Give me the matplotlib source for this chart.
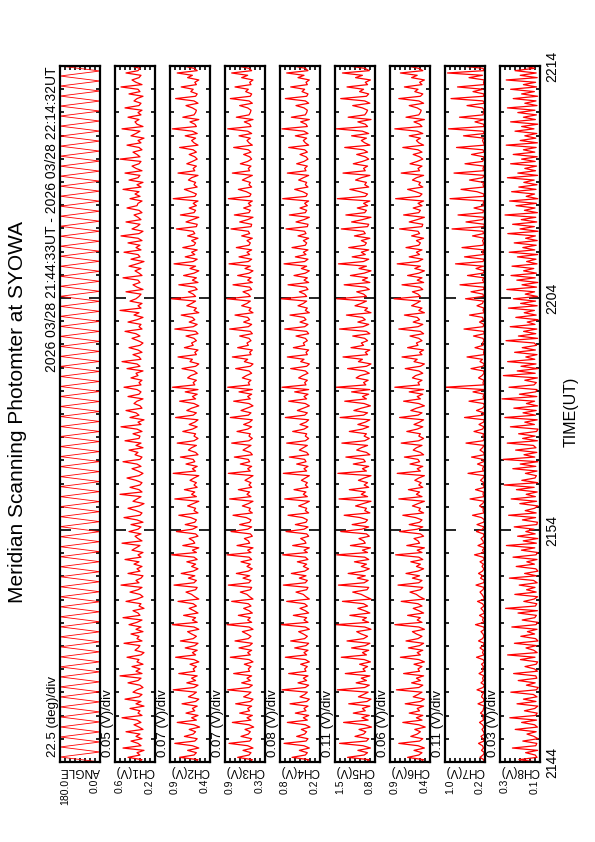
import numpy as np
import matplotlib
matplotlib.use("Agg")
from matplotlib import pyplot as plt

plt.rcParams["font.family"] = ["Liberation Sans", "DejaVu Sans"]

# time axis: minutes after 21:44 UT
t_start, t_end = 0.0, 30.0
time_ticks = [0, 10, 20, 30]
time_labels = ["2144", "2154", "2204", "2214"]

# scan angle (deg) at the turning points of each scan
angle = [
    0, 180, 0, 180, 0, 180, 0, 180, 0, 180, 0, 180, 0, 180, 0, 180, 0, 180, 0, 180,
    0, 180, 0, 180, 0, 180, 0, 180, 0, 180, 0, 180, 0, 180, 0, 180, 0, 180, 0, 180,
    0, 180, 0, 180, 0, 180, 0, 180, 0, 180, 0, 180, 0, 180, 0, 180, 0, 180, 0, 180,
    0, 180, 0, 180, 0, 180, 0, 180, 0, 180, 0, 180, 0, 180, 0, 180, 0, 180, 0, 180,
    0, 180, 0, 180, 0, 180, 0, 180, 0, 180, 0, 180, 0, 180, 0, 180, 0, 180, 0, 180,
    0, 180, 0, 180, 0, 180, 0, 180, 0, 180, 0, 180, 0, 180, 0, 180, 0, 180, 0, 180,
    0, 180, 0, 180, 0, 180, 0, 180, 0, 180, 0, 180, 0, 180, 0, 180, 0, 180, 0, 180,
]

# channel outputs, in 0.01 V (CH8 in 0.001 V)
ch1 = [
    36, 33, 47, 35, 38, 31, 52, 34, 37, 44, 33, 39, 35, 49, 32, 36, 41, 34, 38, 53,
    33, 37, 35, 45, 31, 39, 34, 50, 36, 33, 42, 38, 32, 35, 47, 37, 34, 55, 33, 39,
    35, 43, 32, 38, 36, 48, 34, 31, 40, 37, 35, 51, 33, 38, 36, 44, 32, 39, 34, 46,
    38, 33, 52, 35, 37, 42, 31, 36, 34, 49, 38, 32, 35, 45, 37, 33, 54, 36, 39, 34,
    32, 47, 35, 38, 33, 41, 36, 50, 34, 37, 32, 43, 39, 35, 53, 33, 37, 40, 34, 46,
    37, 34, 44, 32, 38, 51, 35, 33, 39, 47, 36, 31, 42, 38, 34, 55, 33, 36, 45, 35,
    33, 39, 48, 36, 32, 37, 43, 34, 38, 52, 35, 33, 40, 37, 46, 32, 39, 34, 50, 36,
    35, 42, 33, 38, 54, 34, 37, 31, 45, 36, 39, 49, 33, 35, 41, 38, 32, 47, 36, 34,
    38, 51, 34, 36, 33, 44, 37, 39, 32, 48, 35, 38, 53, 34, 36, 42, 33, 37, 46, 35,
    32, 37, 43, 35, 39, 50, 33, 36, 34, 47, 38, 32, 41, 36, 55, 34, 37, 33, 45, 39,
    36, 34, 49, 32, 38, 42, 35, 37, 52, 33, 36, 40, 34, 46, 38, 31, 44, 35, 37, 51,
    34, 39, 35, 47, 33, 37, 54, 36, 32, 43, 38, 35, 49, 34, 37, 41, 33, 36, 48, 38,
    37, 33, 45, 35, 40, 36, 52, 34, 38, 32, 46, 37, 35, 50, 33, 39, 43, 36, 34, 55,
    35, 38, 42, 33, 36, 48, 34, 37, 31, 44, 39, 35, 53, 32, 38, 40, 36, 47, 34, 37,
    33, 50, 36, 34, 41, 38, 32, 46, 35, 37, 54, 33, 39, 43, 36, 34, 49, 37, 35, 44,
]
ch2 = [
    58, 55, 78, 60, 57, 68, 54, 62, 84, 59, 56, 72, 61, 58, 66, 53, 60, 81, 57, 63,
    55, 70, 59, 62, 56, 75, 58, 54, 67, 61, 57, 86, 60, 55, 69, 58, 63, 56, 79, 59,
    61, 57, 65, 54, 60, 83, 58, 62, 56, 71, 59, 55, 77, 61, 57, 63, 68, 54, 60, 87,
    56, 62, 58, 73, 55, 60, 66, 57, 61, 80, 54, 59, 63, 70, 58, 56, 85, 60, 57, 67,
    59, 76, 61, 55, 63, 58, 69, 56, 60, 88, 57, 62, 54, 74, 59, 61, 66, 55, 58, 82,
    62, 56, 71, 59, 57, 64, 79, 55, 60, 58, 68, 61, 54, 84, 57, 63, 59, 72, 56, 60,
    57, 65, 60, 54, 86, 58, 62, 56, 70, 59, 61, 77, 55, 58, 67, 63, 57, 81, 60, 55,
    60, 58, 74, 62, 56, 66, 59, 55, 83, 61, 57, 69, 63, 54, 60, 78, 58, 62, 56, 71,
    55, 87, 59, 61, 57, 68, 64, 56, 60, 75, 58, 54, 65, 62, 80, 57, 59, 55, 72, 61,
    63, 57, 60, 70, 55, 58, 84, 61, 56, 66, 59, 62, 76, 54, 60, 57, 69, 63, 58, 88,
    58, 61, 67, 56, 59, 79, 55, 62, 57, 73, 60, 54, 65, 58, 85, 61, 56, 71, 59, 63,
    56, 74, 60, 58, 63, 55, 68, 59, 61, 82, 57, 56, 70, 62, 54, 77, 60, 58, 66, 57,
    61, 55, 86, 59, 57, 64, 72, 56, 60, 58, 67, 63, 55, 80, 59, 61, 57, 69, 62, 56,
    59, 66, 57, 61, 78, 55, 60, 63, 58, 71, 56, 62, 87, 57, 59, 65, 54, 74, 60, 58,
    57, 62, 70, 55, 60, 83, 58, 56, 64, 61, 76, 57, 59, 54, 68, 62, 81, 56, 60, 73,
]
ch3 = [
    52, 49, 71, 54, 51, 63, 48, 56, 84, 53, 50, 66, 55, 52, 60, 47, 54, 79, 51, 57,
    49, 68, 53, 56, 50, 74, 52, 48, 62, 55, 51, 86, 54, 49, 65, 52, 57, 50, 77, 53,
    55, 51, 61, 48, 54, 82, 52, 56, 50, 69, 53, 49, 75, 55, 51, 57, 64, 48, 54, 87,
    50, 56, 52, 70, 49, 54, 62, 51, 55, 80, 48, 53, 57, 67, 52, 50, 85, 54, 51, 63,
    53, 73, 55, 49, 57, 52, 66, 50, 54, 87, 51, 56, 48, 72, 53, 55, 61, 49, 52, 81,
    56, 50, 68, 53, 51, 58, 78, 49, 54, 52, 64, 55, 48, 83, 51, 57, 53, 70, 50, 54,
    51, 60, 54, 48, 85, 52, 56, 50, 67, 53, 55, 76, 49, 52, 63, 57, 51, 80, 54, 49,
    54, 52, 72, 56, 50, 62, 53, 49, 82, 55, 51, 66, 57, 48, 54, 77, 52, 56, 50, 69,
    49, 86, 53, 55, 51, 64, 58, 50, 54, 74, 52, 48, 61, 56, 79, 51, 53, 49, 71, 55,
    57, 51, 54, 68, 49, 52, 83, 55, 50, 62, 53, 56, 75, 48, 54, 51, 65, 57, 52, 87,
    52, 55, 63, 50, 53, 78, 49, 56, 51, 71, 54, 48, 60, 52, 84, 55, 50, 69, 53, 57,
    50, 73, 54, 52, 57, 49, 65, 53, 55, 81, 51, 50, 68, 56, 48, 76, 54, 52, 62, 51,
    55, 49, 85, 53, 51, 58, 70, 50, 54, 52, 64, 57, 49, 79, 53, 55, 51, 67, 56, 50,
    53, 62, 51, 55, 77, 49, 54, 57, 52, 69, 50, 56, 86, 51, 53, 61, 48, 73, 54, 52,
    51, 56, 68, 49, 54, 82, 52, 50, 59, 55, 75, 51, 53, 48, 65, 56, 80, 50, 54, 71,
]
ch4 = [
    40, 37, 62, 42, 39, 51, 36, 44, 74, 41, 38, 55, 43, 40, 48, 35, 42, 69, 39, 45,
    37, 57, 41, 44, 38, 65, 40, 36, 50, 43, 39, 77, 42, 37, 53, 40, 45, 38, 67, 41,
    43, 39, 49, 36, 42, 72, 40, 44, 38, 58, 41, 37, 64, 43, 39, 45, 52, 36, 42, 78,
    38, 44, 40, 60, 37, 42, 50, 39, 43, 70, 36, 41, 45, 56, 40, 38, 75, 42, 39, 51,
    41, 63, 43, 37, 45, 40, 54, 38, 42, 76, 39, 44, 36, 61, 41, 43, 49, 37, 40, 71,
    44, 38, 57, 41, 39, 46, 68, 37, 42, 40, 52, 43, 36, 73, 39, 45, 41, 59, 38, 42,
    39, 48, 42, 36, 75, 40, 44, 38, 55, 41, 43, 66, 37, 40, 51, 45, 39, 70, 42, 37,
    42, 40, 61, 44, 38, 50, 41, 37, 72, 43, 39, 54, 45, 36, 42, 67, 40, 44, 38, 58,
    37, 77, 41, 43, 39, 52, 46, 38, 42, 64, 40, 36, 49, 44, 69, 39, 41, 37, 60, 43,
    45, 39, 42, 56, 37, 40, 73, 43, 38, 50, 41, 44, 65, 36, 42, 39, 53, 45, 40, 78,
    40, 43, 51, 38, 41, 68, 37, 44, 39, 59, 42, 36, 48, 40, 74, 43, 38, 57, 41, 45,
    38, 62, 42, 40, 45, 37, 53, 41, 43, 71, 39, 38, 56, 44, 36, 66, 42, 40, 50, 39,
    43, 37, 76, 41, 39, 46, 58, 38, 42, 40, 52, 45, 37, 69, 41, 43, 39, 55, 44, 38,
    41, 50, 39, 43, 67, 37, 42, 45, 40, 57, 38, 44, 77, 39, 41, 49, 36, 63, 42, 40,
    39, 44, 56, 37, 42, 72, 40, 38, 47, 43, 64, 39, 41, 36, 53, 44, 70, 38, 42, 60,
]
ch5 = [
    96, 90, 128, 99, 93, 110, 88, 101, 142, 95, 91, 115, 100, 96, 108, 86, 98, 135, 92, 103,
    90, 118, 97, 102, 89, 126, 94, 87, 109, 100, 92, 146, 98, 90, 113, 95, 104, 89, 132, 97,
    101, 93, 107, 88, 99, 139, 95, 102, 91, 121, 97, 89, 129, 100, 93, 104, 112, 87, 98, 148,
    91, 102, 95, 124, 89, 98, 110, 93, 100, 137, 87, 96, 104, 119, 94, 91, 144, 99, 92, 111,
    97, 127, 100, 90, 104, 95, 116, 91, 98, 147, 93, 102, 88, 123, 97, 100, 108, 90, 95, 140,
    103, 91, 120, 97, 93, 106, 134, 89, 98, 95, 114, 101, 87, 143, 93, 104, 97, 125, 91, 99,
    93, 109, 99, 87, 145, 95, 102, 91, 118, 97, 100, 131, 89, 95, 112, 104, 93, 138, 98, 90,
    99, 95, 125, 102, 91, 110, 97, 89, 141, 100, 93, 117, 104, 88, 99, 133, 95, 102, 91, 121,
    89, 148, 96, 100, 92, 113, 106, 90, 98, 128, 95, 87, 109, 102, 136, 93, 97, 89, 122, 100,
    104, 93, 98, 119, 89, 95, 142, 101, 91, 110, 97, 102, 130, 87, 98, 93, 115, 104, 95, 147,
    95, 100, 112, 90, 97, 134, 89, 102, 93, 123, 99, 87, 108, 95, 144, 100, 91, 120, 97, 104,
    91, 126, 98, 95, 104, 89, 116, 97, 100, 139, 93, 91, 121, 102, 87, 131, 98, 95, 111, 93,
    100, 89, 146, 97, 93, 106, 124, 91, 98, 95, 114, 104, 89, 136, 97, 100, 93, 118, 102, 91,
    97, 112, 93, 100, 133, 89, 98, 104, 95, 121, 91, 102, 148, 93, 97, 110, 87, 127, 98, 95,
    93, 102, 119, 89, 98, 140, 95, 91, 107, 100, 129, 93, 97, 88, 114, 102, 137, 90, 98, 125,
]
ch6 = [
    52, 48, 68, 54, 50, 60, 47, 55, 79, 53, 49, 64, 56, 52, 59, 46, 54, 74, 50, 57,
    49, 66, 53, 56, 48, 71, 52, 47, 61, 55, 50, 82, 54, 49, 63, 52, 57, 48, 73, 53,
    55, 50, 60, 47, 54, 77, 52, 56, 49, 67, 53, 48, 70, 55, 50, 57, 62, 47, 54, 84,
    50, 56, 52, 68, 48, 54, 61, 50, 55, 76, 47, 53, 57, 65, 52, 49, 80, 54, 50, 62,
    53, 70, 55, 48, 57, 52, 64, 49, 54, 83, 50, 56, 47, 69, 53, 55, 60, 48, 52, 78,
    56, 49, 66, 53, 50, 58, 74, 48, 54, 52, 62, 55, 47, 79, 50, 57, 53, 67, 49, 54,
    51, 59, 54, 47, 81, 52, 56, 49, 65, 53, 55, 72, 48, 52, 61, 57, 50, 76, 54, 48,
    54, 52, 69, 56, 49, 60, 53, 48, 78, 55, 50, 64, 57, 47, 54, 73, 52, 56, 49, 66,
    48, 84, 53, 55, 50, 62, 58, 49, 54, 71, 52, 47, 60, 56, 75, 50, 53, 48, 68, 55,
    57, 50, 54, 65, 48, 52, 79, 55, 49, 61, 53, 56, 72, 47, 54, 50, 63, 57, 52, 85,
    52, 55, 62, 49, 53, 75, 48, 56, 50, 68, 54, 47, 59, 52, 81, 55, 49, 66, 53, 57,
    50, 70, 54, 52, 57, 48, 63, 53, 55, 78, 50, 49, 66, 56, 47, 73, 54, 52, 61, 50,
    55, 48, 83, 53, 50, 58, 68, 49, 54, 52, 62, 57, 48, 76, 53, 55, 50, 65, 56, 49,
    53, 61, 50, 55, 74, 48, 54, 57, 52, 66, 49, 56, 84, 50, 53, 60, 47, 70, 54, 52,
    51, 56, 66, 48, 54, 79, 52, 49, 59, 55, 72, 50, 53, 47, 63, 56, 77, 49, 54, 68,
]
ch7 = [
    23, 22, 30, 24, 21, 27, 23, 25, 33, 22, 24, 28, 21, 23, 26, 22, 25, 31, 23, 24,
    22, 29, 24, 23, 21, 34, 23, 22, 27, 25, 22, 36, 24, 21, 28, 23, 25, 22, 32, 24,
    25, 23, 27, 21, 24, 37, 22, 25, 23, 30, 24, 21, 33, 25, 22, 24, 28, 21, 23, 39,
    22, 25, 23, 31, 21, 24, 28, 22, 25, 35, 21, 23, 26, 30, 24, 22, 38, 23, 21, 29,
    24, 33, 25, 22, 26, 23, 30, 21, 24, 41, 22, 25, 21, 34, 23, 24, 28, 22, 23, 37,
    25, 22, 36, 23, 21, 27, 45, 22, 24, 23, 31, 25, 21, 50, 22, 24, 23, 39, 21, 24,
    22, 29, 24, 21, 54, 23, 25, 22, 35, 23, 24, 47, 21, 23, 30, 25, 22, 58, 24, 21,
    24, 23, 42, 25, 22, 32, 23, 21, 61, 24, 22, 37, 25, 21, 23, 52, 22, 24, 21, 44,
    21, 100, 23, 24, 22, 33, 26, 22, 23, 48, 24, 21, 30, 25, 56, 22, 23, 21, 40, 24,
    25, 22, 24, 43, 21, 23, 62, 24, 22, 31, 23, 25, 51, 21, 24, 22, 36, 25, 23, 59,
    23, 24, 48, 22, 23, 70, 21, 25, 22, 55, 24, 21, 38, 23, 79, 24, 22, 61, 23, 25,
    22, 66, 24, 23, 25, 21, 45, 23, 24, 86, 22, 21, 58, 25, 21, 74, 24, 23, 42, 22,
    24, 21, 90, 23, 22, 36, 68, 22, 24, 23, 51, 25, 21, 82, 23, 24, 22, 60, 25, 22,
    23, 47, 22, 24, 77, 21, 23, 25, 22, 63, 21, 24, 93, 22, 23, 40, 21, 71, 24, 23,
    22, 25, 56, 21, 24, 88, 23, 22, 44, 24, 75, 22, 23, 21, 52, 25, 95, 22, 24, 67,
]
ch8 = [
    118, 205, 115, 124, 172, 112, 238, 121, 116, 186, 110, 130, 165, 119, 224, 113, 127, 192, 117, 251,
    122, 114, 178, 126, 111, 215, 120, 183, 115, 133, 246, 118, 109, 168, 124, 209, 116, 121, 232, 113,
    128, 175, 119, 112, 198, 125, 262, 114, 131, 170, 117, 228, 110, 122, 196, 127, 163, 115, 241, 120,
    111, 189, 126, 118, 210, 113, 272, 123, 116, 181, 129, 112, 226, 119, 167, 125, 204, 114, 132, 253,
    117, 177, 110, 121, 219, 128, 166, 115, 235, 120, 112, 193, 126, 268, 118, 184, 111, 212, 124, 171,
    130, 229, 116, 113, 188, 122, 257, 119, 174, 127, 110, 201, 117, 244, 123, 169, 114, 218, 129, 279,
    112, 191, 125, 118, 173, 115, 236, 121, 199, 111, 285, 126, 180, 116, 222, 120, 133, 264, 113, 187,
    124, 207, 117, 110, 248, 128, 176, 114, 276, 122, 185, 119, 231, 112, 168, 127, 290, 116, 203, 121,
    115, 255, 130, 118, 176, 113, 283, 124, 214, 111, 195, 120, 262, 126, 171, 115, 227, 123, 189, 117,
    129, 270, 112, 208, 121, 182, 116, 249, 125, 164, 110, 221, 119, 179, 128, 258, 114, 197, 122, 233,
    113, 174, 127, 266, 117, 190, 111, 216, 124, 245, 118, 182, 131, 240, 115, 167, 120, 213, 112, 254,
    126, 186, 119, 229, 114, 172, 123, 261, 110, 200, 128, 237, 116, 194, 121, 275, 113, 178, 125, 220,
    118, 252, 111, 169, 127, 242, 120, 206, 115, 181, 129, 263, 112, 211, 122, 176, 117, 247, 124, 192,
    114, 234, 126, 183, 119, 269, 113, 199, 121, 176, 116, 225, 130, 192, 111, 247, 123, 183, 118, 211,
    125, 263, 115, 176, 120, 234, 112, 192, 128, 247, 117, 183, 122, 269, 114, 199, 119, 225, 127, 176,
]

series = [angle, ch1, ch2, ch3, ch4, ch5, ch6, ch7, ch8]
units = [1.0, 0.01, 0.01, 0.01, 0.01, 0.01, 0.01, 0.01, 0.001]
names = ["ANGLE", "CH1(V)", "CH2(V)", "CH3(V)", "CH4(V)", "CH5(V)", "CH6(V)", "CH7(V)", "CH8(V)"]
div_labels = ["22.5 (deg)/div", "0.05 (V)/div", "0.07 (V)/div", "0.07 (V)/div", "0.08 (V)/div",
              "0.11 (V)/div", "0.06 (V)/div", "0.11 (V)/div", "0.03 (V)/div"]
vmin = [0.0, 0.2, 0.4, 0.3, 0.2, 0.8, 0.4, 0.2, 0.1]
vmax = [180.0, 0.6, 0.9, 0.9, 0.8, 1.5, 0.9, 1.0, 0.3]
hi_labels = ["180.0", "0.6", "0.9", "0.9", "0.8", "1.5", "0.9", "1.0", "0.3"]
lo_labels = ["0.0", "0.2", "0.4", "0.3", "0.2", "0.8", "0.4", "0.2", "0.1"]

W, H = 595, 842


def fx(x):
    return x / W


def fy(y):
    return 1 - y / H


fig = plt.figure(figsize=(W / 100, H / 100), dpi=100)

# page is printed rotated: time runs upward, values increase to the left
for i in range(9):
    left = 60 + 55 * i
    ax = fig.add_axes([fx(left), fy(762), 40 / W, 696 / H])
    v = np.array(series[i]) * units[i]
    t = np.linspace(t_start, t_end, len(v))
    ax.plot(v, t, color="red", lw=0.6 if i == 0 else 0.9)
    ax.set_xlim(vmax[i], vmin[i])
    ax.set_ylim(t_start, t_end)
    ax.set_yticks(time_ticks)
    ax.set_yticks(np.arange(0, 31, 1), minor=True)
    ax.set_xticks(np.linspace(vmin[i], vmax[i], 9))
    ax.tick_params(which="both", direction="in", left=True, right=True, top=True, bottom=True,
                   labelleft=False, labelbottom=False, color="black", width=1.2)
    ax.tick_params(axis="y", which="major", length=8)
    ax.tick_params(axis="y", which="minor", length=3)
    ax.tick_params(axis="x", which="major", length=3)
    for s in ax.spines.values():
        s.set_linewidth(1.6)

    fig.text(fx(left - 7), fy(757), div_labels[i], rotation=90, ha="center", va="bottom", fontsize=9.5)
    fig.text(fx(left + 20), fy(771), names[i], rotation=180, ha="center", va="center", fontsize=8.5)
    fig.text(fx(left), fy(779), hi_labels[i], rotation=90, ha="left", va="top", fontsize=7.5)
    fig.text(fx(left + 40), fy(779), lo_labels[i], rotation=90, ha="right", va="top", fontsize=7.5)

    if i == 8:
        for tk, lab in zip(time_ticks, time_labels):
            ax.text(1.13, tk, lab, transform=ax.get_yaxis_transform(), rotation=90,
                    ha="left", va="center", fontsize=10)

fig.text(fx(18), fy(412), "Meridian Scanning Photomter at SYOWA", rotation=90,
         ha="center", va="center", fontsize=15)
fig.text(fx(52), fy(66), "2026 03/28 21:44:33UT - 2026 03/28 22:14:32UT", rotation=90,
         ha="center", va="top", fontsize=10)
fig.text(fx(571), fy(412), "TIME(UT)", rotation=90, ha="center", va="center", fontsize=11.5)

fig.savefig("out.png", dpi=100)
